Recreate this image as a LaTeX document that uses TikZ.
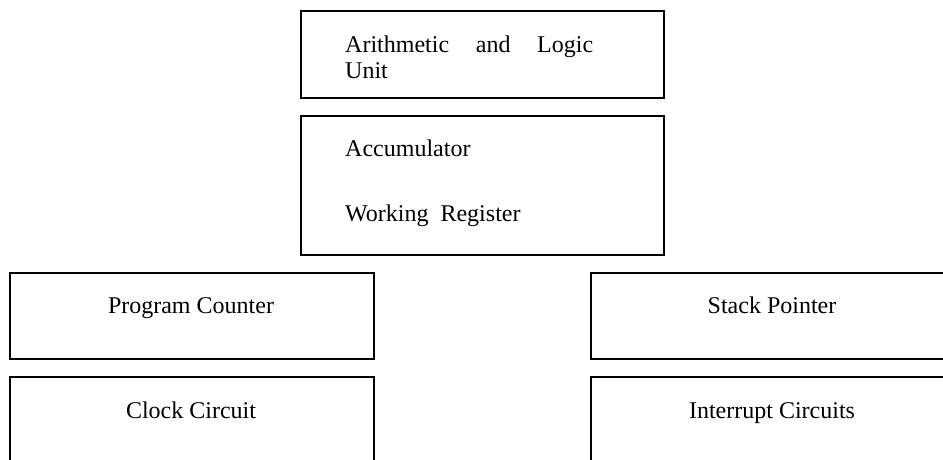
\documentclass[tikz,border=0pt]{standalone}
\usepackage{fontspec}
\setmainfont{Liberation Serif}
\usetikzlibrary{positioning}

\begin{document}
\begin{tikzpicture}[x=1pt,y=-1pt,
        blk/.style={draw, line width=1.6pt, inner sep=0pt, anchor=north west},
        lbl/.style={font=\fontsize{24}{26}\selectfont, inner sep=0pt}]
        \useasboundingbox (0,0) rectangle (943,460);
        \clip (0,0) rectangle (943,460);

        % boxes
        \node[blk, minimum width=363pt, minimum height=87pt] (alu) at (300,10) {};
        \node[blk, minimum width=363pt, minimum height=139pt] (acc) at (300,115) {};
        \node[blk, minimum width=364pt, minimum height=86pt] (pc) at (9,272) {};
        \node[blk, minimum width=364pt, minimum height=100pt] (clk) at (9,376) {};
        \node[blk, minimum width=364pt, minimum height=86pt] (sp) at (590,272) {};
        \node[blk, minimum width=364pt, minimum height=100pt] (intr) at (590,376) {};

        % labels
        \node[lbl, anchor=base west] (alutxt) at (345,53) {\makebox[248pt][s]{Arithmetic and Logic}};
        \node[lbl, anchor=base west] (unittxt) at (345,79) {Unit};
        \node[lbl, anchor=base west] (acctxt) at (345,156) {Accumulator};
        \node[lbl, anchor=base west] (wrtxt) at (345,221) {Working\ \ Register};
        \node[lbl, anchor=base] (pctxt) at (191,313) {Program Counter};
        \node[lbl, anchor=base] (clktxt) at (191,418) {Clock Circuit};
        \node[lbl, anchor=base] (sptxt) at (772,313) {Stack Pointer};
        \node[lbl, anchor=base] (intrtxt) at (772,418) {Interrupt Circuits};
    \end{tikzpicture}
\end{document}
